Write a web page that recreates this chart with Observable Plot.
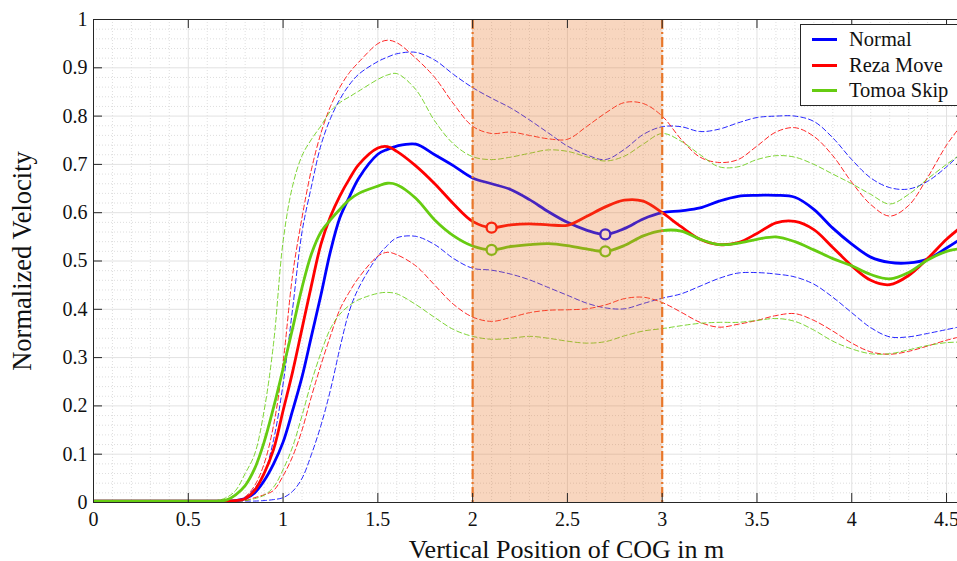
<!DOCTYPE html>
<html><head><meta charset="utf-8">
<script src="https://cdn.jsdelivr.net/npm/d3@7"></script>
<script src="https://cdn.jsdelivr.net/npm/@observablehq/plot@0.6"></script>
<style>
html,body{margin:0;padding:0;background:#fff;overflow:hidden;}
#wrap{position:relative;width:957px;height:561px;overflow:hidden;}
#chart svg{max-width:none !important;}
#legend{position:absolute;left:800px;top:24px;width:175px;height:82px;border:1.3px solid #262626;background:#fff;font-family:"Liberation Serif",serif;font-size:20.5px;box-sizing:border-box;}
.item{position:absolute;left:0;height:25px;display:flex;align-items:center;color:#111;}
.sw{display:inline-block;width:25px;height:3px;margin-left:11px;margin-right:12px;}
</style></head><body><div id="wrap"><div id="chart"></div><div id="legend"></div></div>
<script>
// ---- data ----
const X = [0, 0.6, 0.65, 0.7, 0.75, 0.8, 0.85, 0.9, 0.95, 1.0, 1.05, 1.1, 1.15, 1.2, 1.25, 1.3, 1.35, 1.4,
  1.5, 1.55, 1.6, 1.7, 1.8, 1.9, 2.0, 2.1, 2.2, 2.3, 2.4, 2.5, 2.6, 2.7, 2.8, 2.9, 3.0, 3.1, 3.2, 3.3, 3.4, 3.5,
  3.6, 3.7, 3.8, 3.9, 4.0, 4.1, 4.2, 4.3, 4.4, 4.5, 4.56];

const normalMean = [.003,.003,.003,.003,.004,.008,.02,.045,.08,.125,.19,.26,.345,.43,.52,.59,.633,.672,
  .721,.731,.738,.742,.72,.697,.672,.66,.648,.627,.602,.58,.564,.555,.567,.587,.600,.604,.610,.624,.634,.636,
  .636,.632,.607,.568,.535,.508,.497,.496,.504,.527,.542];
const rezaMean = [.003,.003,.003,.003,.004,.008,.025,.06,.11,.19,.27,.36,.45,.535,.592,.635,.67,.70,
  .734,.737,.727,.697,.66,.618,.582,.569,.575,.577,.575,.574,.592,.612,.626,.624,.600,.571,.545,.534,.538,.557,
  .579,.582,.565,.528,.49,.46,.451,.47,.505,.545,.565];
const tomoaMean = [.003,.003,.003,.005,.016,.035,.07,.125,.197,.277,.36,.445,.515,.56,.585,.607,.627,.64,
  .655,.661,.658,.63,.585,.552,.531,.523,.53,.534,.536,.532,.525,.52,.532,.552,.563,.562,.545,.534,.537,.545,
  .55,.54,.523,.505,.49,.472,.463,.476,.502,.52,.525];

const normalUpper = [.003,.003,.003,.003,.004,.01,.03,.06,.13,.245,.40,.56,.655,.74,.795,.835,.865,.887,
  .913,.922,.929,.932,.916,.886,.859,.837,.817,.792,.765,.738,.72,.71,.731,.762,.778,.778,.768,.773,.786,.797,
  .80,.80,.789,.755,.71,.672,.652,.649,.665,.695,.717];
const rezaUpper = [.003,.003,.003,.003,.004,.012,.035,.08,.16,.29,.47,.59,.69,.765,.82,.86,.89,.912,
  .95,.957,.952,.92,.88,.825,.779,.764,.767,.76,.753,.752,.778,.806,.828,.826,.80,.752,.715,.704,.71,.738,
  .767,.776,.758,.718,.663,.617,.593,.615,.673,.74,.772];
const tomoaUpper = [.003,.003,.004,.01,.025,.06,.10,.19,.33,.54,.655,.718,.752,.78,.81,.828,.84,.852,
  .876,.885,.888,.855,.79,.742,.716,.71,.715,.723,.73,.727,.716,.707,.717,.742,.764,.748,.72,.695,.695,.71,
  .718,.715,.70,.68,.66,.638,.618,.638,.67,.70,.717];

const normalLower = [.003,.003,.003,.003,.003,.003,.003,.004,.006,.01,.023,.05,.10,.16,.233,.32,.397,.445,
  .51,.532,.548,.551,.534,.505,.485,.481,.473,.461,.445,.429,.413,.403,.401,.412,.423,.432,.448,.464,.475,.476,
  .473,.467,.452,.425,.393,.362,.343,.343,.35,.358,.363];
const rezaLower = [.003,.003,.003,.003,.003,.004,.01,.016,.025,.055,.095,.15,.22,.285,.345,.40,.436,.466,
  .51,.518,.513,.49,.45,.41,.384,.375,.383,.393,.398,.399,.401,.409,.422,.425,.414,.394,.373,.363,.369,.377,
  .387,.391,.377,.355,.33,.312,.307,.313,.324,.336,.342];
const tomoaLower = [.003,.003,.003,.003,.003,.004,.008,.015,.032,.068,.115,.18,.25,.31,.36,.39,.408,.42,
  .433,.435,.432,.41,.383,.358,.344,.338,.34,.344,.34,.334,.33,.333,.345,.355,.36,.366,.371,.373,.373,.377,
  .381,.375,.357,.334,.318,.308,.308,.316,.325,.331,.332];

const seriesNames = ["Normal", "Reza Move", "Tomoa Skip"];
const seriesColors = ["#0000ff", "#ff0000", "#66cc11"];

const markerX = [2.1, 2.7, 2.1, 2.7];
const markerY = [0.569, 0.555, 0.523, 0.52];
const markerSeries = ["Reza Move", "Normal", "Tomoa Skip", "Tomoa Skip"];

const bandStart = [2];
const bandEnd = [3];

const xTicks = [0, 0.5, 1, 1.5, 2, 2.5, 3, 3.5, 4, 4.5];
const xTickLabels = ["0", "0.5", "1", "1.5", "2", "2.5", "3", "3.5", "4", "4.5"];
const yTicks = [0, 0.1, 0.2, 0.3, 0.4, 0.5, 0.6, 0.7, 0.8, 0.9, 1];
const yTickLabels = ["0", "0.1", "0.2", "0.3", "0.4", "0.5", "0.6", "0.7", "0.8", "0.9", "1"];

const xLabel = "Vertical Position of COG in m";
const yLabel = "Normalized Velocity";

// ---- tables ----
const means = [normalMean, rezaMean, tomoaMean];
const uppers = [normalUpper, rezaUpper, tomoaUpper];
const lowers = [normalLower, rezaLower, tomoaLower];
const meanRows = [], bandRows = [];
seriesNames.forEach((s, k) => {
  means[k].forEach((v, i) => meanRows.push({x: X[i], y: v, series: s}));
  uppers[k].forEach((v, i) => bandRows.push({x: X[i], y: v, series: s, key: s + "-u"}));
  lowers[k].forEach((v, i) => bandRows.push({x: X[i], y: v, series: s, key: s + "-l"}));
});
const markers = markerX.map((x, i) => ({x, y: markerY[i], series: markerSeries[i]}));
const band = bandStart.map((b, i) => ({x1: b, x2: bandEnd[i]}));

const minorX = d3.range(1, 46).map(i => i / 10).filter(v => Math.abs(v * 2 - Math.round(v * 2)) > 1e-6);
const minorY = d3.range(1, 50).map(i => i / 50).filter(v => Math.abs(v * 10 - Math.round(v * 10)) > 1e-6);

const W = 965, H = 561, ML = 93, MR = 0, MT = 19, MB = 59;
const plotW = W - ML - MR, plotH = H - MT - MB;
const TL = 9;
const orange = "#e8772a";
const axisColor = "#262626";

const chart = Plot.plot({
  width: W, height: H,
  marginLeft: ML, marginRight: MR, marginTop: MT, marginBottom: MB,
  style: {fontFamily: "'Liberation Serif', serif", fontSize: "20px", color: "#111", background: "transparent", overflow: "visible", maxWidth: "none"},
  x: {domain: [0, 4.6]},
  y: {domain: [0, 1]},
  color: {domain: seriesNames, range: seriesColors},
  marks: [
    Plot.ruleX(minorX, {x: d => d, stroke: "#d6d6d6", strokeDasharray: "1,2", strokeWidth: 0.8}),
    Plot.ruleY(minorY, {y: d => d, stroke: "#d6d6d6", strokeDasharray: "1,2", strokeWidth: 0.8}),
    Plot.ruleX(xTicks, {x: d => d, stroke: "#e2e2e2", strokeWidth: 1}),
    Plot.ruleY(yTicks, {y: d => d, stroke: "#e2e2e2", strokeWidth: 1}),
    Plot.line(bandRows, {x: "x", y: "y", z: "key", stroke: "series", strokeWidth: 1, strokeDasharray: "5,3", strokeOpacity: 0.85, curve: "catmull-rom", clip: true}),
    Plot.line(meanRows, {x: "x", y: "y", z: "series", stroke: "series", strokeWidth: 2.8, curve: "catmull-rom", clip: true}),
    Plot.dot(markers, {x: "x", y: "y", stroke: "series", fill: "white", r: 5, strokeWidth: 2.3}),
    Plot.rect(band, {x1: "x1", x2: "x2", fill: orange, fillOpacity: 0.3}),
    Plot.ruleX([...bandStart, ...bandEnd], {x: d => d, stroke: orange, strokeWidth: 2.2, strokeDasharray: "10,3,2,3"}),
    Plot.frame({stroke: axisColor, strokeWidth: 1}),
    Plot.tickX(xTicks, {x: d => d, insetTop: plotH - TL, stroke: axisColor}),
    Plot.tickX(xTicks, {x: d => d, insetBottom: plotH - TL, stroke: axisColor}),
    Plot.tickY(yTicks, {y: d => d, insetRight: plotW - TL, stroke: axisColor}),
    Plot.tickY(yTicks, {y: d => d, insetLeft: plotW - TL, stroke: axisColor}),
    Plot.axisX({ticks: xTicks, tickFormat: d => xTickLabels[xTicks.indexOf(d)], tickSize: 0, tickPadding: 9, label: null, fontSize: 20}),
    Plot.axisY({ticks: yTicks, tickFormat: d => yTickLabels[yTicks.indexOf(d)], tickSize: 0, tickPadding: 6, label: null, fontSize: 20}),
    Plot.text([xLabel], {text: d => d, frameAnchor: "bottom", dy: 47, dx: 37, fontSize: 26, lineAnchor: "middle", textAnchor: "middle"}),
    Plot.text([yLabel], {text: d => d, frameAnchor: "left", dx: -71, rotate: -90, fontSize: 26.5, lineAnchor: "middle", textAnchor: "middle"})
  ]
});
document.getElementById("chart").appendChild(chart);

// legend
const lg = document.getElementById("legend");
const rowTops = [2, 28, 53];
seriesNames.forEach((s, i) => {
  const it = document.createElement("div");
  it.className = "item";
  it.style.top = rowTops[i] + "px";
  const sw = document.createElement("span");
  sw.className = "sw";
  sw.style.background = seriesColors[i];
  const tx = document.createElement("span");
  tx.textContent = s;
  it.appendChild(sw); it.appendChild(tx);
  lg.appendChild(it);
});
</script></body></html>
